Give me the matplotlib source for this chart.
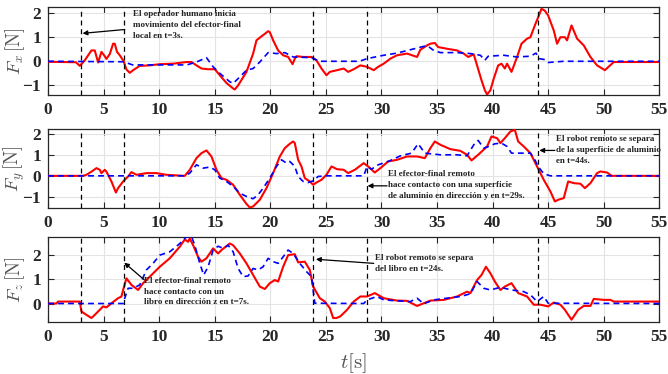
import matplotlib
matplotlib.use("Agg")
import matplotlib.pyplot as plt
import numpy as np

# ---------------- data ----------------
event_times = [3.0, 6.8, 23.8, 28.7, 44.1]
x_ticks = list(range(0, 56, 5))

fx_red_t = [0, 2.5, 2.85, 3.3, 3.9, 4.2, 4.5, 4.8, 5.04, 5.25, 5.55, 5.85, 6.0, 6.2, 6.45, 6.8,
            7.05, 7.35, 7.65, 8.25, 9.15, 10.05, 11.25, 12.45, 12.9, 13.35, 13.8, 14.4, 15.0,
            15.45, 16.05, 16.65, 16.8, 17.1, 17.85, 18.45, 18.75, 19.1, 19.5, 19.8, 19.95,
            20.25, 20.7, 21.15, 21.6, 22.0, 22.2, 22.35, 22.95, 23.7, 24.15, 24.6, 25.05,
            25.35, 26.0, 26.6, 27.0, 27.5, 28.1, 28.7, 29.3, 29.7, 30.2, 30.8, 31.4, 32.3,
            33.2, 33.5, 34.1, 34.4, 34.8, 35.1, 35.9, 36.8, 37.4, 37.8, 38.3, 38.6, 39.0,
            39.3, 39.5, 39.8, 40.1, 40.5, 40.8, 41.1, 41.3, 41.7, 42.2, 42.6, 43.1, 43.4,
            43.8, 44.1, 44.4, 44.7, 45.0, 45.5, 45.8, 46.1, 46.5, 46.7, 47.1, 47.6, 48.2,
            48.8, 49.4, 50.1, 50.9, 55]
fx_red_v = [-0.02, -0.04, -0.19, 0.04, 0.45, 0.45, -0.05, 0.39, 0.25, 0.1, 0.3, 0.73, 0.73,
            0.39, 0.25, 0.0, -0.34, -0.48, -0.37, -0.19, -0.17, -0.12, -0.1, -0.03, -0.03,
            -0.17, -0.3, -0.33, -0.33, -0.58, -0.9, -1.13, -1.17, -1.0, -0.44, 0.32, 0.87,
            1.0, 1.14, 1.25, 1.21, 0.87, 0.45, 0.25, 0.18, -0.12, 0.11, 0.21, 0.18, 0.18,
            0.04, -0.3, -0.58, -0.44, -0.37, -0.3, -0.44, -0.33, -0.17, -0.23, -0.37, -0.23,
            -0.1, 0.11, 0.25, 0.32, 0.18, 0.48, 0.66, 0.73, 0.76, 0.59, 0.52, 0.45, 0.32,
            0.18, 0.29, -0.17, -0.79, -1.2, -1.38, -1.2, -0.72, -0.17, -0.1, -0.3, -0.1,
            -0.44, 0.18, 0.73, 0.94, 1.0, 1.49, 1.83, 2.18, 2.1, 1.9, 1.28, 0.73, 1.0, 1.0,
            0.87, 1.49, 0.94, 0.66, 0.18, -0.17, -0.37, -0.03, -0.03]
fx_blue_t = [0, 6.8, 7.6, 12.5, 13.4, 14.25, 14.85, 15.45, 16.35, 16.65, 17.25, 17.85, 18.45,
             19.05, 19.8, 20.55, 21.3, 22.05, 23.7, 24.45, 28.0, 28.7, 30.2, 31.4, 33.2, 33.8,
             34.2, 34.7, 35.3, 36.8, 38.0, 38.9, 39.3, 39.6, 41.0, 42.2, 43.4, 43.9, 44.2,
             44.7, 45.0, 46.4, 55]
fx_blue_v = [0.0, -0.02, -0.15, -0.15, -0.02, 0.15, -0.23, -0.5, -0.85, -0.92, -0.65, -0.37,
             -0.3, -0.03, 0.36, 0.32, 0.36, 0.18, 0.15, 0.0, 0.0, 0.11, 0.25, 0.34, 0.55, 0.62,
             0.62, 0.45, 0.36, 0.36, 0.32, 0.25, 0.04, 0.21, 0.25, 0.18, 0.21, 0.34, 0.11,
             0.07, -0.05, 0.0, 0.0]

fy_red_t = [0, 3.15, 3.45, 3.9, 4.35, 4.65, 4.8, 5.1, 5.25, 5.7, 6.1, 6.3, 6.75, 7.2, 7.5,
            7.95, 8.85, 9.75, 10.65, 11.55, 12.3, 12.75, 13.35, 13.8, 14.25, 14.7, 15.15,
            15.6, 16.05, 16.65, 17.25, 17.85, 18.15, 18.45, 19.05, 19.65, 20.25, 20.85, 21.3,
            21.75, 22.05, 22.2, 22.5, 22.8, 23.1, 23.55, 23.85, 24.15, 24.6, 25.05, 25.5,
            26.0, 26.6, 27.0, 27.6, 28.4, 28.8, 29.4, 29.9, 30.6, 31.4, 32.3, 33.2, 33.9,
            34.4, 34.8, 35.3, 36.2, 37.1, 37.7, 38.1, 38.7, 39.5, 39.9, 40.4, 40.7, 41.1,
            41.6, 42.0, 42.3, 42.8, 43.4, 44.0, 44.6, 45.2, 45.6, 45.9, 46.4, 46.8, 47.3,
            47.9, 48.3, 48.8, 49.4, 49.7, 50.3, 50.7, 55]
fy_red_v = [0.0, 0.0, 0.05, 0.2, 0.37, 0.29, 0.13, 0.29, 0.2, -0.27, -0.8, -0.59, -0.27, -0.03,
            0.18, 0.05, 0.13, 0.13, 0.05, 0.02, 0.0, 0.29, 0.85, 1.09, 1.22, 0.93, 0.29, -0.11,
            -0.19, -0.43, -0.91, -1.35, -1.52, -1.47, -1.15, -0.59, 0.13, 0.93, 1.33, 1.54,
            1.65, 1.57, 0.77, 0.45, -0.11, -0.27, -0.43, -0.32, -0.19, 0.05, 0.45, 0.32,
            0.29, 0.13, 0.29, 0.61, 0.45, 0.16, 0.37, 0.69, 0.77, 0.93, 0.93, 0.85, 1.33,
            1.65, 1.49, 1.28, 1.2, 1.01, 0.74, 1.01, 1.41, 1.89, 1.81, 1.57, 1.81, 2.13,
            2.21, 1.65, 1.41, 1.09, 0.45, -0.19, -0.75, -1.23, -1.15, -1.07, -0.27, -0.35,
            -0.38, -0.59, -0.35, 0.13, 0.21, 0.16, 0.0, 0.0]
fy_blue_t = [0, 12.3, 12.75, 13.35, 13.95, 14.55, 15.0, 15.45, 16.05, 16.65, 17.25, 18.0,
             18.45, 18.9, 19.35, 19.95, 20.55, 21.0, 21.45, 21.75, 22.2, 22.5, 22.95, 23.4,
             23.85, 24.3, 25.05, 28.4, 28.7, 29.1, 29.7, 30.6, 31.7, 32.7, 33.3, 33.9, 35.3,
             36.8, 37.7, 38.3, 38.7, 39.2, 39.8, 40.2, 40.8, 41.3, 41.7, 43.4, 43.8, 44.1,
             44.6, 45.2, 55]
fy_blue_v = [0.0, 0.0, 0.13, 0.53, 0.37, 0.42, 0.29, -0.11, -0.27, -0.51, -0.83, -1.03, -1.1,
             -0.91, -0.59, -0.11, 0.45, 0.77, 0.61, 0.69, 0.45, -0.03, -0.27, -0.32, -0.24,
             -0.03, 0.0, 0.0, 0.45, 0.32, 0.53, 0.69, 0.96, 1.09, 1.54, 1.09, 1.01, 1.01,
             0.96, 1.49, 1.7, 1.33, 1.44, 1.54, 1.57, 1.41, 1.09, 1.09, 0.77, 0.45, 0.1, 0.0,
             0.0]

fz_red_t = [0, 0.75, 0.9, 1.65, 2.85, 3.0, 3.45, 3.9, 4.2, 4.65, 4.95, 5.25, 5.7, 6.3, 6.6,
            6.75, 7.05, 7.5, 8.1, 8.55, 9.15, 10.05, 10.95, 11.85, 12.3, 12.6, 12.75, 13.05,
            13.5, 13.8, 14.25, 14.85, 15.3, 15.6, 16.35, 16.65, 17.25, 17.85, 18.45, 19.05,
            19.5, 19.95, 20.4, 20.7, 21.15, 21.6, 22.2, 22.5, 23.1, 23.55, 23.85, 24.45,
            24.9, 25.35, 25.65, 25.95, 26.3, 26.9, 27.5, 28.1, 28.7, 29.4, 30.2, 31.4, 32.3,
            33.2, 33.8, 34.4, 35.6, 36.8, 37.7, 38.0, 38.6, 39.0, 39.4, 39.8, 40.2, 40.7,
            41.1, 41.7, 42.3, 43.1, 43.7, 44.3, 45.0, 45.5, 46.1, 46.5, 47.1, 47.7, 48.2,
            48.8, 49.1, 50.0, 50.6, 50.9, 55]
fz_red_v = [0.0, 0.0, 0.08, 0.08, 0.08, -0.33, -0.47, -0.6, -0.47, -0.26, -0.12, -0.16, 0.01,
            0.22, 0.29, 0.56, 1.04, 0.77, 0.56, 0.84, 1.11, 1.52, 1.87, 2.35, 2.65, 2.55,
            2.69, 2.41, 1.93, 1.73, 1.87, 2.28, 2.07, 2.21, 2.48, 2.41, 2.07, 1.66, 1.18,
            0.7, 0.6, 0.84, 0.97, 0.91, 1.52, 2.0, 2.04, 1.7, 1.73, 1.39, 0.7, 0.22, 0.08,
            -0.19, -0.6, -0.6, -0.53, -0.26, 0.08, 0.29, 0.29, 0.43, 0.22, 0.12, 0.11, -0.1,
            0.01, 0.12, 0.15, 0.29, 0.49, 0.43, 0.97, 1.18, 1.52, 1.25, 0.91, 0.56, 0.7,
            0.84, 0.43, 0.29, -0.05, -0.05, -0.12, 0.04, -0.05, -0.26, -0.67, -0.26, -0.1,
            -0.1, 0.19, 0.15, 0.15, 0.08, 0.08]
fz_blue_t = [0, 6.8, 6.9, 7.2, 7.65, 8.25, 8.85, 9.45, 10.05, 10.95, 11.85, 12.45, 12.9,
             13.2, 13.65, 14.0, 14.4, 14.85, 15.3, 15.75, 16.2, 16.65, 17.1, 17.55, 18.0,
             18.45, 18.9, 19.35, 19.8, 20.25, 20.7, 21.15, 21.6, 22.05, 22.65, 23.25, 23.7,
             24.0, 28.4, 28.7, 29.6, 30.2, 31.4, 32.6, 33.2, 33.8, 34.7, 35.9, 37.1, 38.0,
             38.6, 39.2, 39.8, 40.7, 41.7, 42.8, 43.4, 44.0, 44.6, 45.0, 55]
fz_blue_v = [0.0, 0.0, 0.22, 0.63, 0.63, 0.77, 1.39, 1.66, 2.0, 2.14, 2.48, 2.76, 2.78, 2.41,
             1.66, 1.18, 1.52, 2.21, 2.37, 2.28, 2.41, 2.14, 1.45, 1.11, 1.14, 1.45, 1.39,
             1.52, 1.87, 1.73, 1.66, 1.93, 2.21, 2.07, 1.66, 1.32, 1.11, 0.01, 0.0, 0.15,
             0.29, 0.15, 0.11, 0.08, 0.22, -0.01, 0.15, 0.22, 0.29, 0.4, 0.91, 0.63, 0.56,
             0.67, 0.56, 0.49, 0.36, 0.08, 0.29, 0.01, 0.0]

ylabels = [r'$F_x\,[\mathrm{N}]$', r'$F_y\,[\mathrm{N}]$', r'$F_z\,[\mathrm{N}]$']
yticks = [[-1, 0, 1, 2], [-1, 0, 1, 2], [0, 1, 2]]
ylims = [(-1.4, 2.25), (-1.56, 2.23), (-0.75, 2.73)]
xlabel = r'$t[\mathrm{s}]$'

# ---------------- style ----------------
plt.rcParams['mathtext.fontset'] = 'cm'
plt.rcParams['font.family'] = ['Liberation Serif', 'DejaVu Serif']

fig = plt.figure(figsize=(6.68, 3.74), dpi=100)
L, R = 0.072, 0.987
boxes = [(0.746, 0.981), (0.443, 0.654), (0.140, 0.365)]
axes = [fig.add_axes([L, b, R - L, t - b]) for b, t in boxes]

series = [(fx_red_t, fx_red_v, fx_blue_t, fx_blue_v),
          (fy_red_t, fy_red_v, fy_blue_t, fy_blue_v),
          (fz_red_t, fz_red_v, fz_blue_t, fz_blue_v)]

axcol = '#262626'
for i, ax in enumerate(axes):
    rt, rv, bt, bv = series[i]
    ax.plot(rt, rv, color='#ff0000', lw=1.5, zorder=3, solid_joinstyle='round')
    ax.plot(bt, bv, color='#0000ff', lw=1.2, ls=(0, (3.5, 2.5)), zorder=4)
    for et in event_times:
        ax.axvline(et, color='black', lw=0.9, ls=(0, (4, 3)), zorder=5)
    ax.set_xlim(0, 55)
    ax.set_ylim(*ylims[i])
    ax.set_xticks(x_ticks)
    ax.set_yticks(yticks[i])
    ax.grid(True, color='#e3e3e3', lw=0.8, zorder=0)
    ax.set_axisbelow(True)
    ax.tick_params(direction='in', length=4, width=0.8, top=True, right=True,
                   labelsize=12.5, colors=axcol, pad=5)
    for lab in ax.get_xticklabels() + ax.get_yticklabels():
        lab.set_fontweight('bold')
    for s in ax.spines.values():
        s.set_color(axcol)
        s.set_linewidth(0.9)
    ax.set_ylabel(ylabels[i], fontsize=13.5, color='#555555')
    ax.yaxis.set_label_coords(-0.034, 0.5)

axes[2].set_xlabel(xlabel, fontsize=15, color='#555555', labelpad=5)

ann_kw = dict(fontsize=6.5, fontweight='bold', color='#222222', linespacing=1.45,
              va='top', ha='left')
arr = dict(arrowstyle='-|>', color='black', lw=0.9, mutation_scale=7, shrinkA=0, shrinkB=0)

# Panel 1
axes[0].annotate('', xy=(3.1, 1.16), xytext=(6.9, 1.32), arrowprops=arr, zorder=6)
axes[0].text(7.6, 2.12, 'El operador humano inicia\nmovimiento del efector-final\nlocal en t=3s.',
             **ann_kw)
# Panel 2
axes[1].annotate('', xy=(44.2, 1.22), xytext=(45.6, 1.22), arrowprops=arr, zorder=6)
axes[1].text(45.7, 1.95, 'El robot remoto se separa\nde la superficie de aluminio\nen t=44s.',
             **ann_kw)
axes[1].annotate('', xy=(28.75, -0.48), xytext=(30.5, -0.48), arrowprops=arr, zorder=6)
axes[1].text(30.6, 0.27,
             'El efector-final remoto\nhace contacto con una superficie\nde aluminio en dirección y en t=29s.',
             **ann_kw)
# Panel 3
axes[2].annotate('', xy=(6.85, 1.69), xytext=(8.65, 0.98), arrowprops=arr, zorder=6)
axes[2].text(8.6, 1.1, 'El efector-final remoto\nhace contacto con un\nlibro en dirección z en t=7s.',
             **ann_kw)
axes[2].annotate('', xy=(24.1, 1.83), xytext=(29.3, 1.66), arrowprops=arr, zorder=6)
axes[2].text(29.4, 2.05, 'El robot remoto se separa\ndel libro en t=24s.', **ann_kw)

fig.savefig('out.png', dpi=100)
